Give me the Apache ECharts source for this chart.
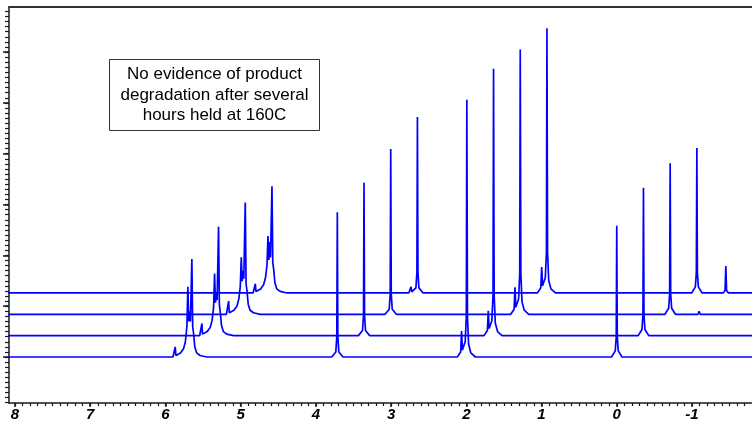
<!DOCTYPE html>
<html>
<head>
<meta charset="utf-8">
<script src="https://cdn.jsdelivr.net/npm/echarts@6/dist/echarts.min.js"></script>
<style>html,body{margin:0;padding:0;background:#fff}#c{width:752px;height:426px}</style>
</head>
<body>
<div id="c"></div>
<script>
// ---- data (ppm, intensity); trace 1 is the front/bottom spectrum ----
const trace1 = [
  [9.6,0],
  [5.90,0],[5.878,3],[5.87,20],[5.862,3],[5.84,4],
  [5.80,8],[5.76,16],[5.735,30],[5.715,60],[5.702,138],[5.69,70],[5.678,90],[5.668,70],[5.649,193],[5.638,60],[5.625,45],[5.61,20],[5.585,8],[5.54,3],[5.45,0],
  [3.79,0],[3.735,10],[3.722,40],[3.715,285],[3.708,40],[3.695,10],[3.64,0],
  [2.12,0],[2.075,10],[2.063,51],[2.052,14],[2.015,30],[2.0,80],[1.993,506],[1.985,80],[1.97,25],[1.94,8],[1.88,0],
  [0.07,0],[0.02,12],[0.007,40],[0.0,258],[-0.007,40],[-0.02,12],[-0.07,0],
  [-2.2,0]
];
const trace2 = [
  [9.6,0],
  [5.90,0],[5.878,3],[5.87,24],[5.862,3],[5.84,4],
  [5.80,8],[5.76,16],[5.735,30],[5.715,55],[5.702,122],[5.69,65],[5.678,85],[5.668,70],[5.649,214],[5.638,60],[5.625,45],[5.61,20],[5.585,8],[5.54,3],[5.45,0],
  [3.79,0],[3.735,10],[3.722,40],[3.715,301],[3.708,40],[3.695,10],[3.64,0],
  [2.12,0],[2.075,10],[2.063,49],[2.052,14],[2.015,30],[2.0,80],[1.993,525],[1.985,80],[1.97,25],[1.94,8],[1.88,0],
  [0.07,0],[0.02,12],[0.007,40],[0.0,291],[-0.007,40],[-0.02,12],[-0.07,0],
  [-2.2,0]
];
const trace3 = [
  [9.6,0],
  [5.90,0],[5.878,3],[5.87,26],[5.862,3],[5.84,4],
  [5.80,8],[5.76,16],[5.735,30],[5.715,55],[5.702,112],[5.69,65],[5.678,85],[5.668,70],[5.649,220],[5.638,60],[5.625,45],[5.61,20],[5.585,8],[5.54,3],[5.45,0],
  [3.79,0],[3.735,10],[3.722,40],[3.715,325],[3.708,40],[3.695,10],[3.64,0],
  [2.12,0],[2.075,10],[2.063,53],[2.052,14],[2.015,30],[2.0,80],[1.993,521],[1.985,80],[1.97,25],[1.94,8],[1.88,0],
  [0.07,0],[0.02,12],[0.007,40],[0.0,297],[-0.007,40],[-0.02,12],[-0.07,0],
  [-0.37,0],[-0.385,6],[-0.40,0],
  [-2.2,0]
];
const trace4 = [
  [9.6,0],
  [5.90,0],[5.878,3],[5.87,18],[5.862,3],[5.84,4],
  [5.80,8],[5.76,16],[5.735,30],[5.715,55],[5.702,112],[5.69,65],[5.678,100],[5.668,70],[5.649,210],[5.638,60],[5.625,45],[5.61,20],[5.585,8],[5.54,3],[5.45,0],
  [3.83,0],[3.80,12],[3.79,2],[3.735,10],[3.722,40],[3.715,346],[3.708,40],[3.695,10],[3.64,0],
  [2.12,0],[2.075,10],[2.063,51],[2.052,14],[2.015,30],[2.0,80],[1.993,521],[1.985,80],[1.97,25],[1.94,8],[1.88,0],
  [0.07,0],[0.02,12],[0.007,40],[0.0,285],[-0.007,40],[-0.02,12],[-0.07,0],
  [-0.35,0],[-0.375,5],[-0.385,53],[-0.395,5],[-0.42,0],
  [-2.2,0]
];
const traces = [trace1, trace2, trace3, trace4];
const xTickLabels = [8, 7, 6, 5, 4, 3, 2, 1, 0, -1];
const yMajorTicks = [0, 100, 200, 300, 400, 500, 600];
const noteText = ['No evidence of product', 'degradation after several', 'hours held at 160C'];

// ---- layout / view ----
const X_MAX = 8.08, X_MIN = -1.798, X_SHIFT = 0.355;   // stacked-plot offsets
const Y_MIN = -90.5, Y_MAX = 688.6, Y_SHIFT = 42;
const gridRect = {left: 9, top: 7, right: 0, bottom: 23};

const xMinor = [];
for (let v = -17; v <= 80; v++) xMinor.push(v / 10);
const yMinor = [];
for (let v = -9; v <= 68; v++) yMinor.push(v * 10);

const grids = [], xAxes = [], yAxes = [], series = [];
traces.forEach((t, k) => {
  grids.push(Object.assign({}, gridRect));
  xAxes.push({gridIndex: k, type: 'value', inverse: true, show: false,
    min: X_MIN + k * X_SHIFT, max: X_MAX + k * X_SHIFT});
  yAxes.push({gridIndex: k, type: 'value', show: false,
    min: Y_MIN - k * Y_SHIFT, max: Y_MAX - k * Y_SHIFT});
  series.push({type: 'line', xAxisIndex: k, yAxisIndex: k, data: t, showSymbol: false,
    symbol: 'none', smooth: false, clip: true, animation: false,
    lineStyle: {color: '#0000ff', width: 1.7}, z: 10 - k});
});
// decoration grid: main axes with major ticks and labels
const axisColor = '#1a1a1a';
grids.push(Object.assign({}, gridRect));
xAxes.push({gridIndex: 4, type: 'value', inverse: true, min: X_MIN, max: X_MAX, position: 'bottom',
  axisLine: {show: true, onZero: false, lineStyle: {color: axisColor, width: 1.5}},
  axisTick: {show: true, length: 4, customValues: xTickLabels, lineStyle: {color: axisColor, width: 1.5}},
  axisLabel: {show: true, customValues: xTickLabels, margin: 4, color: '#000', fontSize: 15,
    fontWeight: 'bold', fontStyle: 'italic', fontFamily: '"Liberation Sans", Arial, sans-serif'},
  splitLine: {show: false}});
yAxes.push({gridIndex: 4, type: 'value', min: Y_MIN, max: Y_MAX, position: 'left',
  axisLine: {show: true, onZero: false, lineStyle: {color: axisColor, width: 1.5}},
  axisTick: {show: true, length: 6, customValues: yMajorTicks, lineStyle: {color: axisColor, width: 1.5}},
  axisLabel: {show: false}, splitLine: {show: false}});
// decoration grid: minor ticks and top frame
grids.push(Object.assign({}, gridRect));
xAxes.push({gridIndex: 5, type: 'value', inverse: true, min: X_MIN, max: X_MAX, position: 'bottom',
  axisLine: {show: false, onZero: false},
  axisTick: {show: true, length: 3, customValues: xMinor, lineStyle: {color: axisColor, width: 1.2}},
  axisLabel: {show: false}, splitLine: {show: false}});
xAxes.push({gridIndex: 5, type: 'value', inverse: true, min: X_MIN, max: X_MAX, position: 'top',
  axisLine: {show: true, onZero: false, lineStyle: {color: '#333', width: 2}},
  axisTick: {show: false}, axisLabel: {show: false}, splitLine: {show: false}});
yAxes.push({gridIndex: 5, type: 'value', min: Y_MIN, max: Y_MAX, position: 'left',
  axisLine: {show: false, onZero: false},
  axisTick: {show: true, length: 4, customValues: yMinor, lineStyle: {color: axisColor, width: 1.2}},
  axisLabel: {show: false}, splitLine: {show: false}});

const chart = echarts.init(document.getElementById('c'), null, {renderer: 'canvas'});
chart.setOption({
  animation: false,
  backgroundColor: '#ffffff',
  grid: grids,
  xAxis: xAxes,
  yAxis: yAxes,
  series: series,
  graphic: [{
    type: 'group', left: 109, top: 59, z: 100,
    children: [
      {type: 'rect', shape: {x: 0.5, y: 0.5, width: 210, height: 71},
        style: {fill: '#fff', stroke: '#333', lineWidth: 1}},
      {type: 'text', x: 105.5, y: 36,
        style: {text: noteText.join('\n'), fill: '#000', font: '17px "Liberation Sans", Arial, sans-serif',
          align: 'center', verticalAlign: 'middle', lineHeight: 20.5}}
    ]
  }]
});
</script>
</body>
</html>
